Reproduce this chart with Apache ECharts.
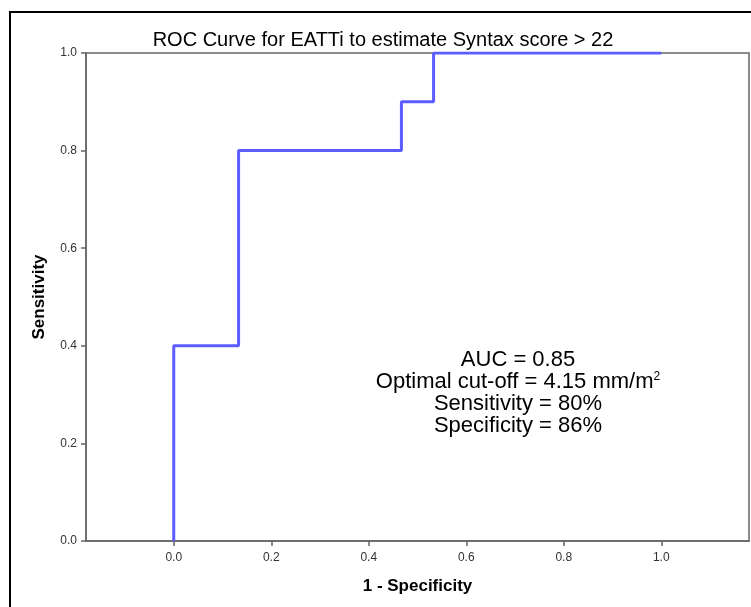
<!DOCTYPE html>
<html>
<head>
<meta charset="utf-8">
<title>ROC Curve</title>
<script src="https://cdn.jsdelivr.net/npm/echarts@6/dist/echarts.min.js"></script>
<style>
  body { margin:0; background:#fff; }
  #main { width:751px; height:607px; }
</style>
</head>
<body>
<div id="main"></div>
<script>
// ROC curve points (step shape)
var fpr = [0, 0, 0.133, 0.133, 0.467, 0.467, 0.533, 0.533, 1.0];
var tpr = [0, 0.4, 0.4, 0.8, 0.8, 0.9, 0.9, 1.0, 1.0];
var xTicks = [0, 0.2, 0.4, 0.6, 0.8, 1.0];
var notes = ['AUC = 0.85', 'Optimal cut-off = 4.15 mm/m', 'Sensitivity = 80%', 'Specificity = 86%'];

var pts = [];
for (var i = 0; i < fpr.length; i++) pts.push([fpr[i], tpr[i]]);

var myChart = echarts.init(document.getElementById('main'));
var axisCol = '#666';
var option = {
  backgroundColor: '#fff',
  animation: false,
  title: {
    text: 'ROC Curve for EATTi to estimate Syntax score > 22',
    left: 378, top: 25, textAlign: 'center',
    textStyle: { fontFamily: 'Arial, Liberation Sans', fontSize: 20, fontWeight: 'normal', color: '#000' }
  },
  grid: { left: 86, top: 53, right: 2, bottom: 66, show: true, borderColor: axisCol, borderWidth: 1.5, containLabel: false },
  xAxis: {
    type: 'value', min: -0.18, max: 1.18,
    name: '1 - Specificity', nameLocation: 'middle', nameGap: 37,
    nameTextStyle: { fontFamily: 'Arial, Liberation Sans', fontSize: 17, fontWeight: 'bold', color: '#000' },
    axisLine: { show: true, onZero: false, lineStyle: { color: axisCol, width: 1.5 } },
    axisTick: { show: true, length: 5, customValues: xTicks, lineStyle: { color: axisCol, width: 1.5 } },
    axisLabel: { customValues: xTicks, margin: 11, fontFamily: 'Arial, Liberation Sans', fontSize: 12, color: '#333',
      formatter: function (v) { return v.toFixed(1); } },
    splitLine: { show: false }
  },
  yAxis: {
    type: 'value', min: 0, max: 1, interval: 0.2,
    name: 'Sensitivity', nameLocation: 'middle', nameGap: 38,
    nameTextStyle: { fontFamily: 'Arial, Liberation Sans', fontSize: 17, fontWeight: 'bold', color: '#000' },
    axisLine: { show: true, onZero: false, lineStyle: { color: axisCol, width: 1.5 } },
    axisTick: { show: true, length: 5, lineStyle: { color: axisCol, width: 1.5 } },
    axisLabel: { margin: 9, fontFamily: 'Arial, Liberation Sans', fontSize: 12, color: '#333',
      formatter: function (v) { return v.toFixed(1); } },
    splitLine: { show: false }
  },
  series: [{
    type: 'line', data: pts, symbol: 'none',
    lineStyle: { color: '#5c5cff', width: 3 }
  }],
  graphic: [
    { type: 'rect', shape: { x: 10, y: 12, width: 760, height: 620 }, style: { fill: 'none', stroke: '#000', lineWidth: 2 }, silent: true },
    {
      type: 'text', x: 518, y: 349, silent: true,
      style: {
        text: notes[0] + '\n' + notes[1] + '{s|2}\n' + notes[2] + '\n' + notes[3],
        align: 'center', verticalAlign: 'top', lineHeight: 22,
        font: '22px Arial, "Liberation Sans"', fill: '#000',
        rich: { s: { fontSize: 12, lineHeight: 22, verticalAlign: 'top', padding: [0, 0, 8, 0], fontFamily: 'Arial' } }
      }
    }
  ]
};
myChart.setOption(option);
</script>
</body>
</html>
